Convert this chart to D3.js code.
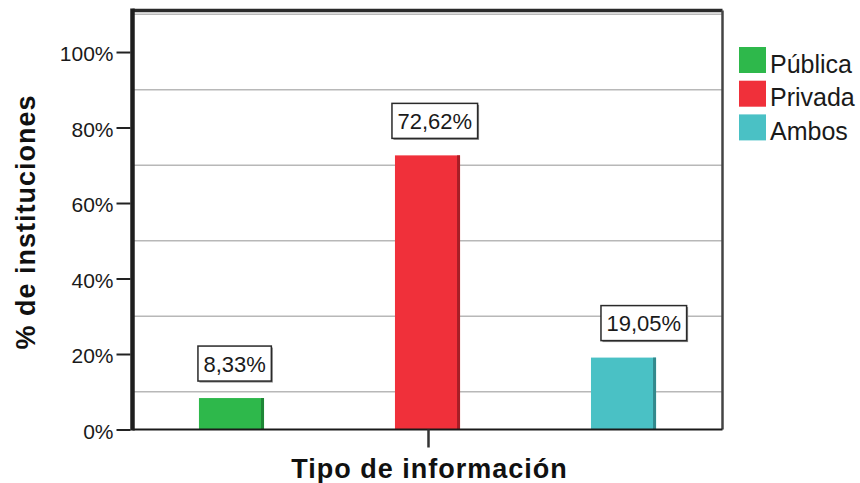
<!DOCTYPE html>
<html>
<head>
<meta charset="utf-8">
<script src="https://cdn.jsdelivr.net/npm/d3@7/dist/d3.min.js"></script>
<style>
  html, body { margin: 0; padding: 0; background: #fff; }
  svg { display: block; font-family: "Liberation Sans", Arial, sans-serif; }
</style>
</head>
<body>
<svg id="chart" width="860" height="483"></svg>
<script>
// Share of institutions by type of information
const categories = ["Pública", "Privada", "Ambos"];
const values = [8.33, 72.62, 19.05];
const valueLabels = ["8,33%", "72,62%", "19,05%"];
const yTickValues = [0, 20, 40, 60, 80, 100];
const yTickLabels = ["0%", "20%", "40%", "60%", "80%", "100%"];
const gridValues = [10, 30, 50, 70, 90, 110];
const xTitle = "Tipo de información";
const yTitle = "% de instituciones";

const fills = ["#2eb84b", "#f0303a", "#4ac1c5"];
const shades = ["#1f8636", "#a61e26", "#33898c"];

const svg = d3.select("#chart");
const plotLeft = 132.5, plotRight = 722.5, plotTop = 10.5, plotBottom = 429.5;

const y = d3.scaleLinear().domain([0, 111]).range([plotBottom, plotTop]);
const x = d3.scaleBand().domain(categories).range([plotLeft, plotRight])
  .paddingInner(0.668).paddingOuter(0.339);

// gridlines
svg.append("g").selectAll("line").data(gridValues).join("line")
  .attr("x1", plotLeft).attr("x2", plotRight)
  .attr("y1", d => y(d)).attr("y2", d => y(d))
  .attr("stroke", "#b8b8b8").attr("stroke-width", 1.5);

// bars with a darker right edge
const bars = svg.append("g").selectAll("g").data(categories).join("g");
bars.append("rect")
  .attr("x", d => x(d)).attr("width", x.bandwidth())
  .attr("y", (d, i) => y(values[i])).attr("height", (d, i) => plotBottom - y(values[i]))
  .attr("fill", (d, i) => fills[i]);
bars.append("rect")
  .attr("x", d => x(d) + x.bandwidth() - 3).attr("width", 3)
  .attr("y", (d, i) => y(values[i])).attr("height", (d, i) => plotBottom - y(values[i]))
  .attr("fill", (d, i) => shades[i]);

// frame
svg.append("line").attr("x1", plotLeft).attr("x2", plotRight).attr("y1", plotTop).attr("y2", plotTop)
  .attr("stroke", "#2a2a2a").attr("stroke-width", 3.5);
svg.append("line").attr("x1", plotRight).attr("x2", plotRight).attr("y1", plotTop).attr("y2", plotBottom)
  .attr("stroke", "#444").attr("stroke-width", 2.5);
svg.append("line").attr("x1", plotLeft).attr("x2", plotRight).attr("y1", plotBottom).attr("y2", plotBottom)
  .attr("stroke", "#1a1a1a").attr("stroke-width", 2);

// y axis
const yAxis = d3.axisLeft(y).tickValues(yTickValues)
  .tickFormat((d, i) => yTickLabels[i]).tickSize(14).tickPadding(3);
const gy = svg.append("g").attr("transform", `translate(${plotLeft - 2},0)`).call(yAxis);
gy.select(".domain").remove();
gy.selectAll(".tick line").attr("stroke", "#222").attr("stroke-width", 2);
gy.selectAll(".tick text").attr("font-size", 21).attr("fill", "#1a1a1a")
  .attr("font-family", "'Liberation Sans', Arial, sans-serif").attr("dy", "0.42em");
svg.append("line").attr("x1", plotLeft).attr("x2", plotLeft).attr("y1", plotTop - 2).attr("y2", plotBottom + 1)
  .attr("stroke", "#1e1e1e").attr("stroke-width", 4.5);

// x axis: a single tick under the cluster
const xc = (plotLeft + plotRight) / 2;
svg.append("line").attr("x1", xc + 1).attr("x2", xc + 1).attr("y1", plotBottom).attr("y2", plotBottom + 18)
  .attr("stroke", "#333").attr("stroke-width", 2.5);

// value labels in boxes
const labelNudge = [0, -2, 11];
const lab = svg.append("g").selectAll("g").data(categories).join("g");
lab.each(function(d, i) {
  const g = d3.select(this);
  const t = g.append("text").text(valueLabels[i])
    .attr("font-size", 22).attr("fill", "#1a1a1a");
  const w = t.node().getComputedTextLength() + 11;
  const h = 35;
  const bx = x(d) + labelNudge[i] - 1;
  const by = y(values[i]) - 17 - h;
  g.insert("rect", "text").attr("x", bx + 1.5).attr("y", by + 1.5).attr("width", w).attr("height", h)
    .attr("fill", "#8a8a8a");
  g.insert("rect", "text").attr("x", bx).attr("y", by).attr("width", w).attr("height", h)
    .attr("fill", "#fff").attr("stroke", "#2a2a2a").attr("stroke-width", 1.5);
  t.attr("x", bx + w / 2).attr("text-anchor", "middle").attr("y", by + h / 2 + 8);
});

// legend
const lg = svg.append("g").selectAll("g").data(categories).join("g")
  .attr("transform", (d, i) => `translate(739,${47 + i * 33.7})`);
lg.append("rect").attr("width", 27).attr("height", 26).attr("fill", (d, i) => fills[i]);
lg.append("text").attr("x", 31).attr("y", 25.5).attr("font-size", 25).attr("fill", "#1a1a1a")
  .text(d => d);

// axis titles
svg.append("text").attr("x", xc + 2).attr("y", 478).attr("text-anchor", "middle")
  .attr("font-size", 27).attr("font-weight", "bold").attr("letter-spacing", 1)
  .attr("fill", "#111").text(xTitle);
svg.append("text").attr("transform", "translate(35,222) rotate(-90)").attr("text-anchor", "middle")
  .attr("font-size", 27).attr("font-weight", "bold").attr("letter-spacing", 1)
  .attr("fill", "#111").text(yTitle);
</script>
</body>
</html>
